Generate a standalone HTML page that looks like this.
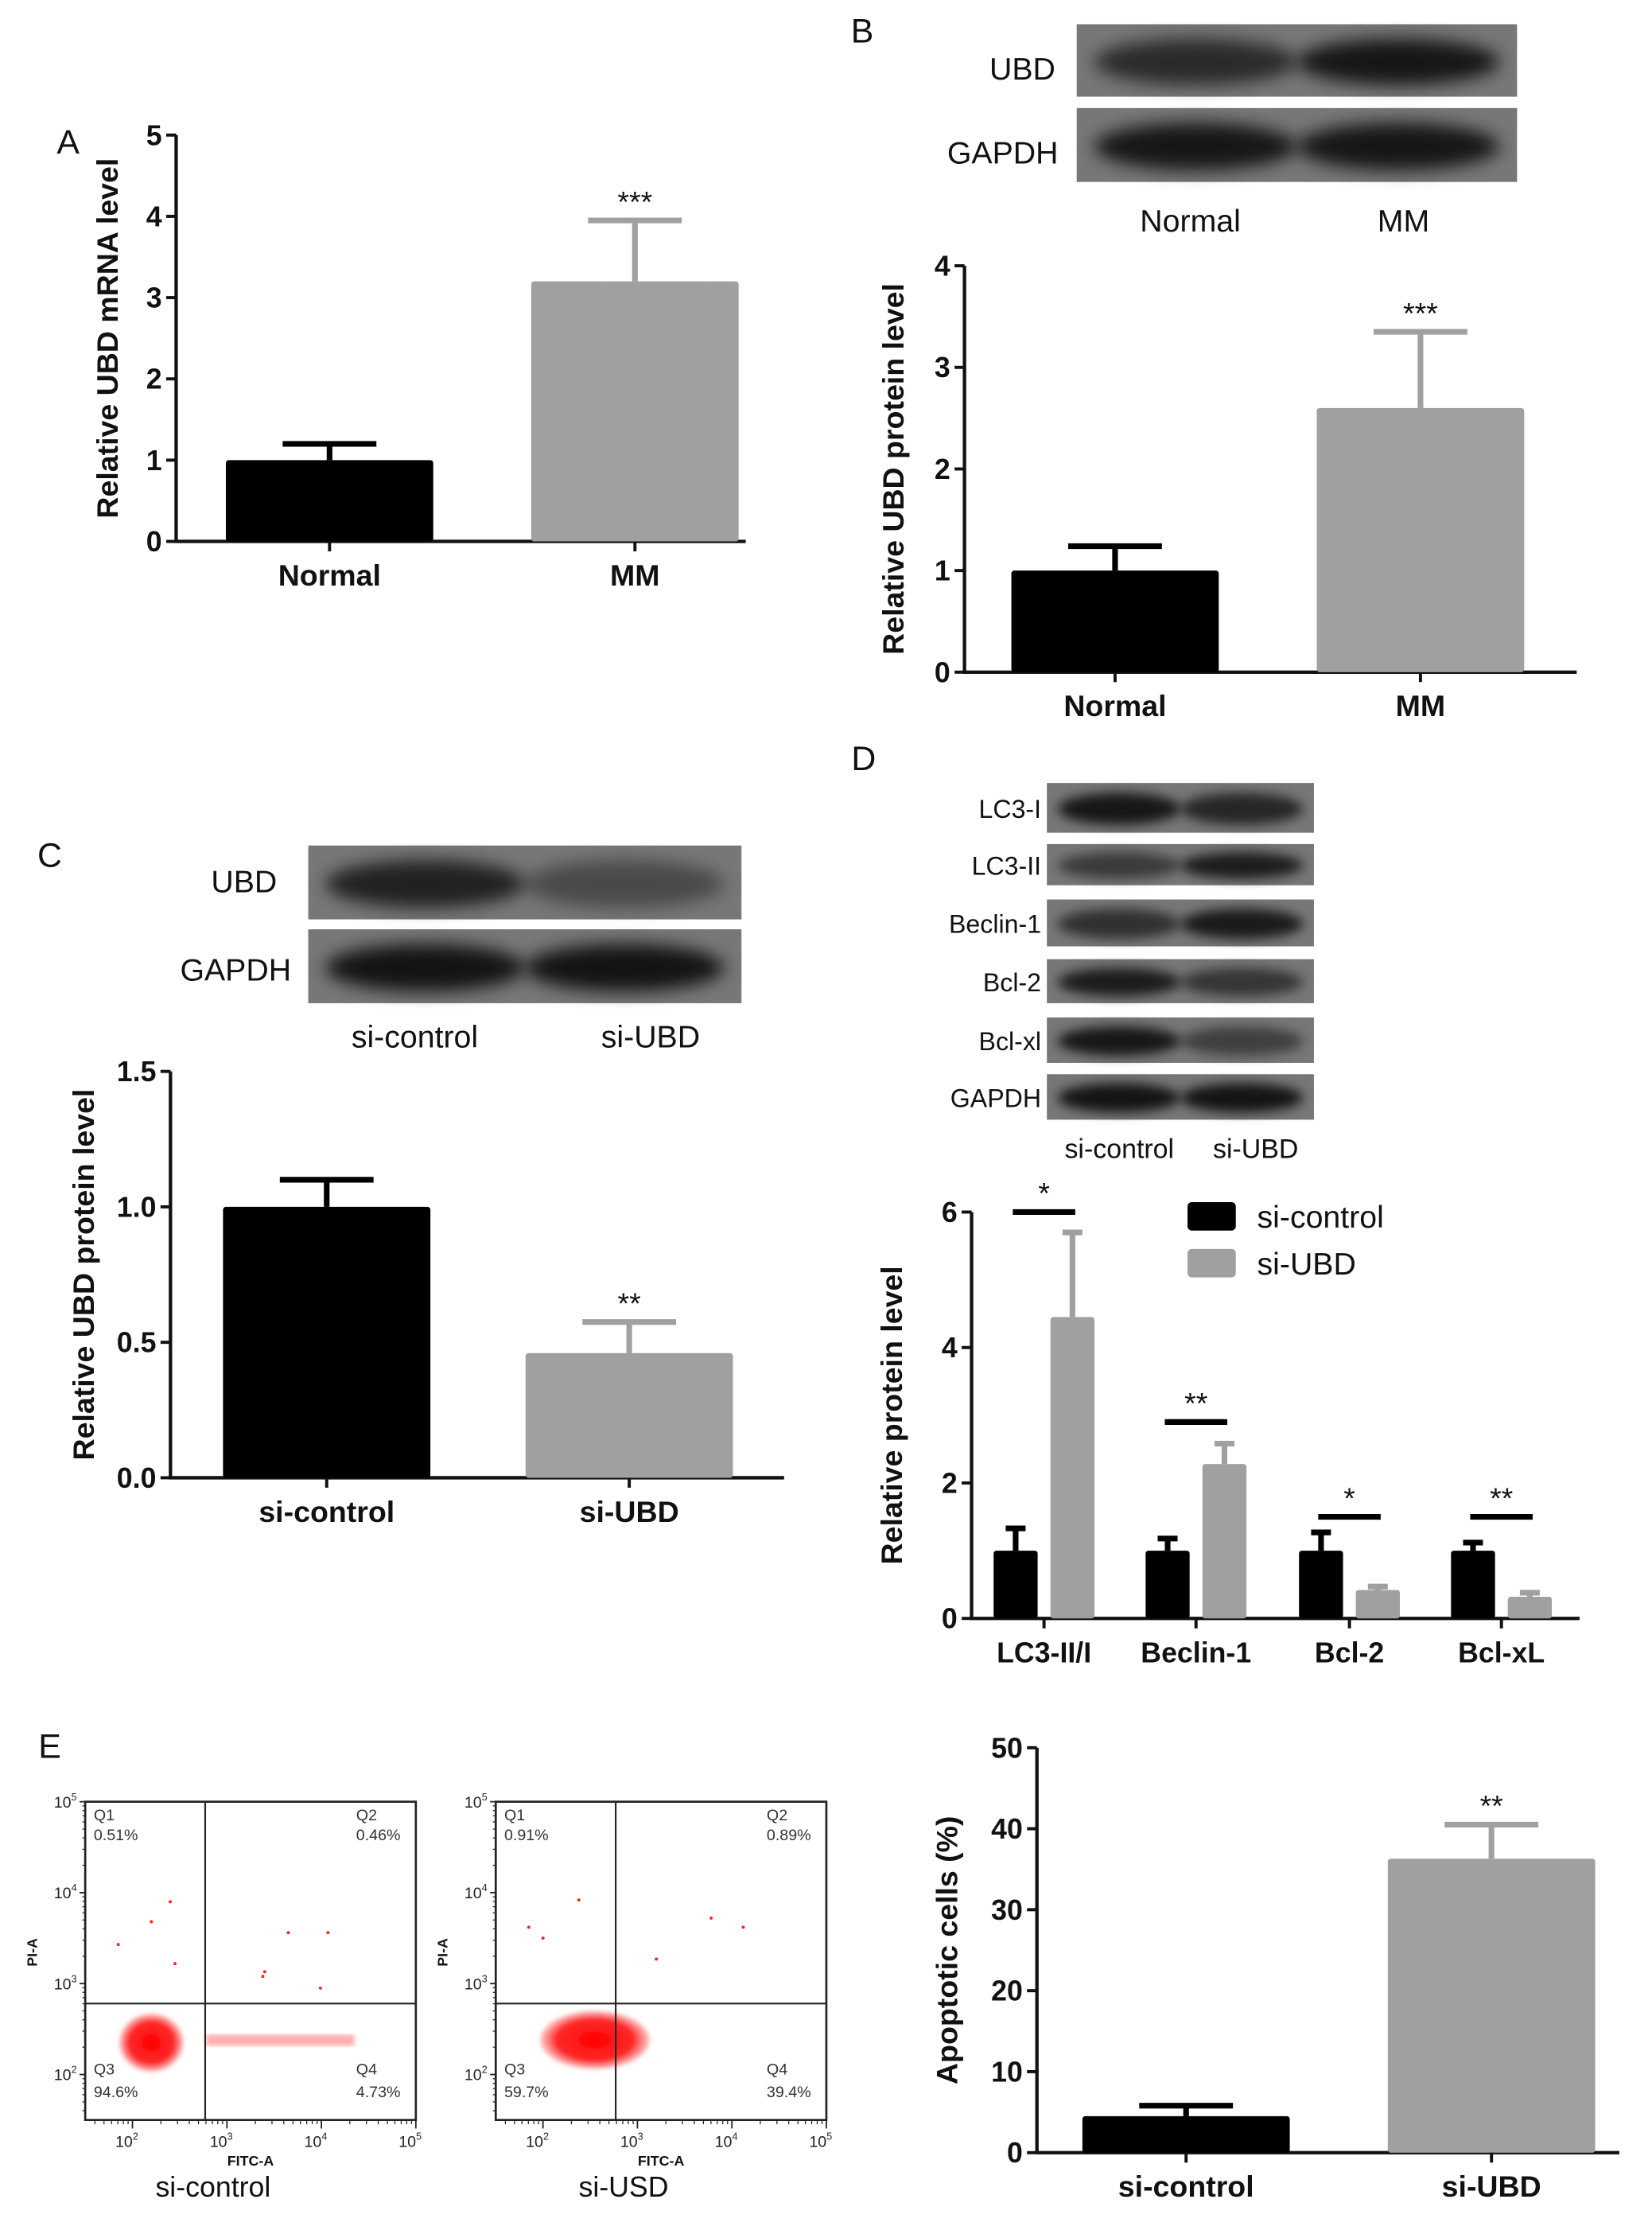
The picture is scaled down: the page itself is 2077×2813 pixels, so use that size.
<!DOCTYPE html>
<html><head><meta charset="utf-8"><style>
html,body{margin:0;padding:0;background:#fff;}
svg{display:block;font-family:"Liberation Sans",Arial,sans-serif;}
</style></head><body>
<svg id="fig" width="2077" height="2813" viewBox="0 0 1163 1575" xmlns="http://www.w3.org/2000/svg">
<defs>
<filter id="blur3" x="-20%" y="-50%" width="140%" height="200%"><feGaussianBlur stdDeviation="6"/></filter>
<filter id="blur2" x="-20%" y="-50%" width="140%" height="200%"><feGaussianBlur stdDeviation="4"/></filter>
<filter id="blur1"><feGaussianBlur stdDeviation="1.5"/></filter>
<radialGradient id="cloud"><stop offset="0" stop-color="#ff0000" stop-opacity="1"/><stop offset="0.7" stop-color="#ff1010" stop-opacity="0.9"/><stop offset="1" stop-color="#ff4040" stop-opacity="0.3"/></radialGradient>
</defs>
</svg>
<script>
// ---------- DATA ----------
const catsA = ["Normal","MM"];
const valsA = [1.0, 3.2];
const errA = [1.2, 3.95];
const sigA = ["", "***"];
const ticksA = ["0","1","2","3","4","5"];

const catsB = ["Normal","MM"];
const valsB = [1.0, 2.6];
const errB = [1.24, 3.35];
const sigB = ["", "***"];
const ticksB = ["0","1","2","3","4"];

const catsC = ["si-control","si-UBD"];
const valsC = [1.0, 0.46];
const errC = [1.1, 0.575];
const sigC = ["", "**"];
const ticksC = ["0.0","0.5","1.0","1.5"];

const catsD = ["LC3-II/I","Beclin-1","Bcl-2","Bcl-xL"];
const ctrlD = [1.0, 1.0, 1.0, 1.0];
const ctrlErrD = [1.33, 1.18, 1.27, 1.12];
const ubdD = [4.45, 2.28, 0.42, 0.32];
const ubdErrD = [5.7, 2.58, 0.47, 0.38];
const sigD = ["*","**","*","**"];
const sigLevelD = [6.0, 2.9, 1.5, 1.5];
const ticksD = ["0","2","4","6"];

const catsE = ["si-control","si-UBD"];
const valsE = [4.5, 36.3];
const errE = [5.8, 40.5];
const sigE = ["", "**"];
const ticksE = ["0","10","20","30","40","50"];

// flow cytometry: cluster summaries (log10 units) and outlier events
const flowNames = ["si-control","si-USD"];
const flowQuads = [["0.51%","0.46%","94.6%","4.73%"],["0.91%","0.89%","59.7%","39.4%"]];
const flowCloudX = [2.2, 2.55];
const flowCloudY = [2.35, 2.38];
const flowCloudRX = [0.34, 0.58];
const flowCloudRY = [0.32, 0.32];
const flowTailX = [[2.78, 4.35],[3.6, 3.9]];
const flowOutX1 = [2.4, 2.2, 1.85, 2.45, 3.65, 4.07, 3.4, 3.38, 3.99];
const flowOutY1 = [3.9, 3.68, 3.43, 3.22, 3.56, 3.56, 3.13, 3.08, 2.95];
const flowOutX2 = [2.38, 1.85, 2.0, 3.2, 3.78, 4.12];
const flowOutY2 = [3.92, 3.62, 3.5, 3.27, 3.72, 3.62];

// ---------- HELPERS ----------
const NS = "http://www.w3.org/2000/svg";
const svg = document.getElementById("fig");
function mk(tag, attrs, parent, text){
  const e = document.createElementNS(NS, tag);
  for (const k in attrs) e.setAttribute(k, attrs[k]);
  if (text !== undefined) e.textContent = text;
  (parent || svg).appendChild(e);
  return e;
}
function txt(x,y,s,size,opts,parent){
  opts = opts || {};
  const e = mk("text",{x:x,y:y,"font-size":size,"text-anchor":opts.anchor||"middle","font-weight":opts.bold?"bold":"normal",fill:opts.fill||"#111"},parent,s);
  if (opts.rot) e.setAttribute("transform","rotate(-90 "+x+" "+y+")");
  return e;
}

function barChart(cfg){
  const g = mk("g",{});
  
  
  const y = v => cfg.y0 - (v/cfg.max)*(cfg.y0-cfg.yTop);
  const ax = mk("path",{d:"M"+cfg.ax+" "+cfg.yTop+" V"+cfg.y0+" H"+cfg.xEnd,stroke:"#111","stroke-width":2.4,fill:"none"},g);
  
  
  cfg.ticks.forEach((t,i)=>{
    const v = i*cfg.max/(cfg.ticks.length-1);
    mk("line",{x1:cfg.ax-7,x2:cfg.ax,y1:y(v),y2:y(v),stroke:"#111","stroke-width":2.2},g);
    const l = txt(cfg.ax-10,y(v)+7,t,20,{anchor:"end",bold:true},g);
    
    
  });
  const yt = txt(cfg.titleX,(cfg.yTop+cfg.y0)/2,cfg.title,21,{bold:true,rot:true},g);
  
  
  cfg.cats.forEach((c,i)=>{
    const cx = cfg.centers[i];
    const bw = cfg.barW;
    const col = i===0?"#000":"#a0a0a0";
    const b = mk("rect",{x:cx-bw/2,y:y(cfg.vals[i]),width:bw,height:cfg.y0-y(cfg.vals[i]),fill:col,rx:2},g);
    
    
    mk("line",{x1:cx,x2:cx,y1:y(cfg.vals[i]),y2:y(cfg.errs[i]),stroke:col,"stroke-width":4},g);
    mk("line",{x1:cx-33,x2:cx+33,y1:y(cfg.errs[i]),y2:y(cfg.errs[i]),stroke:col,"stroke-width":4},g);
    mk("line",{x1:cx,x2:cx,y1:cfg.y0,y2:cfg.y0+7,stroke:"#111","stroke-width":2.2},g);
    const cl = txt(cx,cfg.y0+31,c,21,{bold:true},g);
    
    
    if (cfg.sig[i]){
      const s = txt(cx,y(cfg.errs[i])-6,cfg.sig[i],21,{},g);
      
      
    }
  });
}

function blot(x,w,y1,y2,intens,name){
  const g = mk("g",{});
  
  
  mk("rect",{x:x,y:y1,width:w,height:y2-y1,fill:"#777"},g);
  const h = y2-y1;
  intens.forEach((a,i)=>{
    const cx = x + w*(i===0?0.27:0.73);
    mk("ellipse",{cx:cx,cy:y1+h*0.52,rx:w*0.23,ry:h*0.32,fill:"#050505","fill-opacity":a*0.85,filter:h>40?"url(#blur3)":"url(#blur2)"},g);
  });
}

// ---------- PANEL LETTERS ----------
[["A",48,108],["B",607,30],["C",35,610],["D",608,542],["E",35,1237]].forEach(p=>{
  const t = txt(p[1],p[2],p[0],24,{});
  
  
});

// ---------- PANEL A ----------
barChart({name:"chart-a",cats:catsA,vals:valsA,errs:errA,sig:sigA,ticks:ticksA,max:5,ax:124,yTop:95,y0:381,xEnd:525,barW:146,centers:[232,447],titleX:83,title:"Relative UBD mRNA level"});

// ---------- PANEL B ----------
blot(758,310,17,68,[0.75,0.95],"blot-b-ubd");
blot(758,310,76,128,[0.95,0.95],"blot-b-gapdh");
txt(743,56,"UBD",22,{anchor:"end"});
txt(745,115,"GAPDH",22,{anchor:"end"});
txt(838,163,"Normal",22,{});
txt(988,163,"MM",22,{});
barChart({name:"chart-b",cats:catsB,vals:valsB,errs:errB,sig:sigB,ticks:ticksB,max:4,ax:679,yTop:187,y0:473,xEnd:1110,barW:146,centers:[785,1000],titleX:636,title:"Relative UBD protein level"});

// ---------- PANEL C ----------
blot(217,305,595,647,[0.85,0.45],"blot-c-ubd");
blot(217,305,654,706,[0.98,0.98],"blot-c-gapdh");
txt(195,628,"UBD",22,{anchor:"end"});
txt(205,690,"GAPDH",22,{anchor:"end"});
txt(292,737,"si-control",22,{});
txt(458,737,"si-UBD",22,{});
barChart({name:"chart-c",cats:catsC,vals:valsC,errs:errC,sig:sigC,ticks:ticksC,max:1.5,ax:120,yTop:754,y0:1040,xEnd:552,barW:146,centers:[230,443],titleX:66,title:"Relative UBD protein level"});

// ---------- PANEL D ----------
const dRows = [["LC3-I",551,586,[0.95,0.8]],["LC3-II",594,623,[0.6,0.9]],["Beclin-1",633,666,[0.7,0.92]],["Bcl-2",675,706,[0.9,0.65]],["Bcl-xl",716,748,[0.95,0.55]],["GAPDH",756,788,[0.98,0.98]]];
dRows.forEach(r=>{
  blot(737,188,r[1],r[2],r[3],"blot-d-"+r[0]);
  txt(733,(r[1]+r[2])/2+7,r[0],18,{anchor:"end"});
});
txt(788,815,"si-control",19,{});
txt(884,815,"si-UBD",19,{});
(function(){
  const g = mk("g",{});
  
  
  const ax=684,yTop=853,y0=1139,xEnd=1112,max=6;
  const y = v => y0-(v/max)*(y0-yTop);
  mk("path",{d:"M"+ax+" "+yTop+" V"+y0+" H"+xEnd,stroke:"#111","stroke-width":2.4,fill:"none"},g);
  ticksD.forEach((t,i)=>{
    const v=i*max/(ticksD.length-1);
    mk("line",{x1:ax-7,x2:ax,y1:y(v),y2:y(v),stroke:"#111","stroke-width":2.2},g);
    txt(ax-10,y(v)+7,t,20,{anchor:"end",bold:true},g);
  });
  const yt = txt(635,996,"Relative protein level",21,{bold:true,rot:true},g);
  
  
  const centers=[735,842,950,1057], bw=31;
  catsD.forEach((c,i)=>{
    const cx=centers[i];
    [[ctrlD[i],ctrlErrD[i],"#000",cx-20],[ubdD[i],ubdErrD[i],"#a0a0a0",cx+20]].forEach((s,j)=>{
      const b=mk("rect",{x:s[3]-bw/2,y:y(s[0]),width:bw,height:y0-y(s[0]),fill:s[2],rx:2},g);
      
      
      mk("line",{x1:s[3],x2:s[3],y1:y(s[0]),y2:y(s[1]),stroke:s[2],"stroke-width":4},g);
      mk("line",{x1:s[3]-7,x2:s[3]+7,y1:y(s[1]),y2:y(s[1]),stroke:s[2],"stroke-width":4},g);
    });
    mk("line",{x1:cx,x2:cx,y1:y0,y2:y0+7,stroke:"#111","stroke-width":2.2},g);
    txt(cx,y0+31,c,20,{bold:true},g);
    const sl=mk("line",{x1:cx-22,x2:cx+22,y1:y(sigLevelD[i]),y2:y(sigLevelD[i]),stroke:"#000","stroke-width":4},g);
    
    
    txt(cx,y(sigLevelD[i])-6,sigD[i],21,{},g);
  });
  const l1=mk("rect",{x:836,y:846,width:34,height:20,fill:"#000",rx:3},g);
  
  
  txt(885,864,"si-control",22,{anchor:"start"},g);
  const l2=mk("rect",{x:836,y:879,width:34,height:20,fill:"#a0a0a0",rx:3},g);
  
  
  txt(885,897,"si-UBD",22,{anchor:"start"},g);
})();

// ---------- PANEL E FLOW PLOTS ----------
[60,349].forEach((left,p)=>{
  const g = mk("g",{});
  
  
  const dec=66.5, decY=64;
  const X = v => left + (v-1.5)*dec;
  const Y = v => 1492 - (v-1.5)*decY;
  const right=X(5), top=Y(5);
  const cx=X(flowCloudX[p]), cy=Y(flowCloudY[p]);
  mk("ellipse",{cx:cx,cy:cy,rx:flowCloudRX[p]*dec,ry:flowCloudRY[p]*decY,fill:"url(#cloud)",filter:"url(#blur1)"},g);
  const t=flowTailX[p];
  if (p===0) mk("rect",{x:X(t[0]),y:Y(2.44),width:X(t[1])-X(t[0]),height:8,fill:"#ff5050","fill-opacity":0.45,filter:"url(#blur1)"},g);
  const ox=p===0?flowOutX1:flowOutX2, oy=p===0?flowOutY1:flowOutY2;
  ox.forEach((v,i)=>{
    const d=mk("circle",{cx:X(v),cy:Y(oy[i]),r:1.1,fill:"#ff2020"},g);
    
    
  });
  mk("rect",{x:left,y:top,width:right-left,height:1492-top,fill:"none",stroke:"#222","stroke-width":1.5},g);
  mk("line",{x1:X(2.77),x2:X(2.77),y1:top,y2:1492,stroke:"#222","stroke-width":1.2},g);
  mk("line",{x1:left,x2:right,y1:Y(2.78),y2:Y(2.78),stroke:"#222","stroke-width":1.2},g);
  ["2","3","4","5"].forEach((e,i)=>{
    const xx=X(2+i);
    mk("line",{x1:xx,x2:xx,y1:1492,y2:1498,stroke:"#222","stroke-width":1},g);
    const tl=mk("text",{x:xx-4,y:1511,"font-size":11,"text-anchor":"middle",fill:"#222"},g,"10");
    mk("tspan",{"font-size":7,dy:-5},tl,e);
    const yy=Y(2+i);
    mk("line",{x1:left-4,x2:left,y1:yy,y2:yy,stroke:"#222","stroke-width":1},g);
    const yl=mk("text",{x:left-14,y:yy+4,"font-size":11,"text-anchor":"middle",fill:"#222"},g,"10");
    mk("tspan",{"font-size":7,dy:-5},yl,e);
  });
  for(let d=1;d<5;d++) for(let k=2;k<10;k++){
    const v=d+Math.log10(k);
    if(v>1.5){ mk("line",{x1:X(v),x2:X(v),y1:1492,y2:1495,stroke:"#222","stroke-width":0.7},g);
      mk("line",{x1:left-2,x2:left,y1:Y(v),y2:Y(v),stroke:"#222","stroke-width":0.7},g);}
  }
  txt((left+right)/2,1524,"FITC-A",10,{bold:true},g);
  txt(left-34,1374,"PI-A",10,{bold:true,rot:true},g);
  const q=flowQuads[p];
  txt(left+6,1281,"Q1",11,{anchor:"start",fill:"#333"},g);
  txt(left+6,1295,q[0],11,{anchor:"start",fill:"#333"},g);
  txt(right-42,1281,"Q2",11,{anchor:"start",fill:"#333"},g);
  txt(right-42,1295,q[1],11,{anchor:"start",fill:"#333"},g);
  txt(left+6,1460,"Q3",11,{anchor:"start",fill:"#333"},g);
  txt(left+6,1476,q[2],11,{anchor:"start",fill:"#333"},g);
  txt(right-42,1460,"Q4",11,{anchor:"start",fill:"#333"},g);
  txt(right-42,1476,q[3],11,{anchor:"start",fill:"#333"},g);
  txt(left+90,1546,flowNames[p],20,{},g);
});

// ---------- PANEL E BAR ----------
barChart({name:"chart-e",cats:catsE,vals:valsE,errs:errE,sig:sigE,ticks:ticksE,max:50,ax:730,yTop:1230,y0:1515,xEnd:1140,barW:146,centers:[835,1050],titleX:674,title:"Apoptotic cells (%)"});
</script>
</body></html>
